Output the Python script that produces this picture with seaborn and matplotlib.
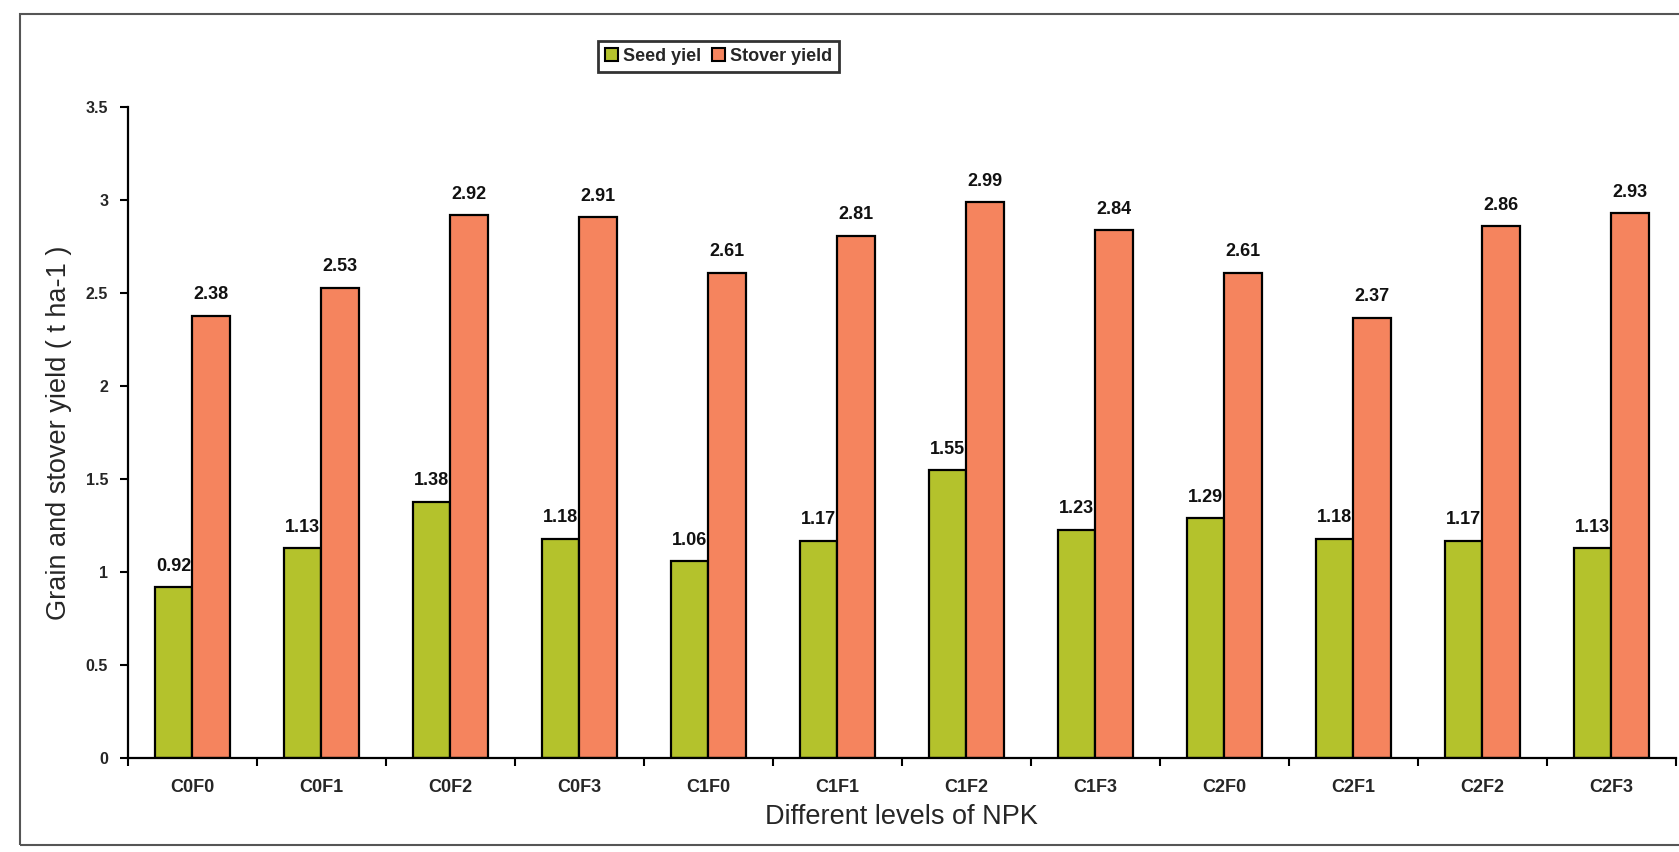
import matplotlib
matplotlib.use("Agg")
import matplotlib.pyplot as plt
from matplotlib.patches import Rectangle
from matplotlib.ticker import FixedLocator, NullFormatter
import seaborn as sns
import pandas as pd
import numpy as np

# Treatment combinations and yields (t ha-1)
treatments = ["C0F0", "C0F1", "C0F2", "C0F3", "C1F0", "C1F1",
              "C1F2", "C1F3", "C2F0", "C2F1", "C2F2", "C2F3"]
seed_yield = [0.92, 1.13, 1.38, 1.18, 1.06, 1.17, 1.55, 1.23, 1.29, 1.18, 1.17, 1.13]
stover_yield = [2.38, 2.53, 2.92, 2.91, 2.61, 2.81, 2.99, 2.84, 2.61, 2.37, 2.86, 2.93]
series_names = ["Seed yiel", "Stover yield"]
y_ticks = [0, 0.5, 1, 1.5, 2, 2.5, 3, 3.5]

df = pd.DataFrame({
    "Treatment": treatments * 2,
    "Yield": seed_yield + stover_yield,
    "Series": [series_names[0]] * len(treatments) + [series_names[1]] * len(treatments),
})

sns.set_style("white")
plt.rcParams["font.family"] = ["Liberation Sans", "DejaVu Sans"]

fig = plt.figure(figsize=(16.79, 8.52), dpi=100)
ax = fig.add_axes([0.076, 0.110, 0.922, 0.764])

palette = {series_names[0]: "#b4c22c", series_names[1]: "#f5845e"}
sns.barplot(data=df, x="Treatment", y="Yield", hue="Series", order=treatments,
            hue_order=series_names, palette=palette, width=0.58, dodge=True,
            edgecolor="black", linewidth=1.6, saturation=1, ax=ax, legend=True)

# Value labels above each bar
for container in ax.containers:
    ax.bar_label(container, labels=[f"{v:.2f}" for v in container.datavalues],
                 padding=9, fontsize=13, fontweight="bold", color="#111111")

ax.set_ylim(0, 3.5)
ax.set_xlim(-0.5, len(treatments) - 0.5)
ax.set_yticks(y_ticks)
ax.set_yticklabels([f"{t:g}" for t in y_ticks], fontsize=11.5, fontweight="bold")
ax.set_xticks(range(len(treatments)))
ax.set_xticklabels(treatments, fontsize=13, fontweight="bold")
ax.tick_params(axis="x", which="major", length=0, pad=15)
ax.xaxis.set_minor_locator(FixedLocator(np.arange(-0.5, len(treatments), 1.0)))
ax.xaxis.set_minor_formatter(NullFormatter())
ax.tick_params(axis="x", which="minor", bottom=True, length=6, width=1.5, color="black")
ax.tick_params(axis="y", left=True, length=6, width=1.5, color="black", pad=8)

for side in ["top", "right"]:
    ax.spines[side].set_visible(False)
for side in ["left", "bottom"]:
    ax.spines[side].set_color("black")
    ax.spines[side].set_linewidth(1.6)

ax.set_xlabel("Different levels of NPK", fontsize=19.5, labelpad=6)
ax.set_ylabel("Grain and stover yield ( t ha-1 )", fontsize=19.5, labelpad=10)

# Legend boxed above the plot area
ax.legend_.remove()
handles = [Rectangle((0, 0), 1, 1, facecolor=palette[n], edgecolor="black", linewidth=1.5)
           for n in series_names]
leg = fig.legend(handles, series_names, loc="center", bbox_to_anchor=(0.428, 0.934),
                 ncol=2, frameon=True, fancybox=False,
                 prop={"weight": "bold", "size": 13}, handlelength=0.7, handleheight=0.7,
                 handletextpad=0.3, columnspacing=0.6, borderpad=0.4)
leg.get_frame().set_edgecolor("black")
leg.get_frame().set_linewidth(2)

# Outer chart frame
fig.patches.append(Rectangle((0.012, 0.008), 1.2, 0.976, transform=fig.transFigure,
                             fill=False, edgecolor="#555555", linewidth=1.5))

fig.savefig("out.png", dpi=100, facecolor="white")
